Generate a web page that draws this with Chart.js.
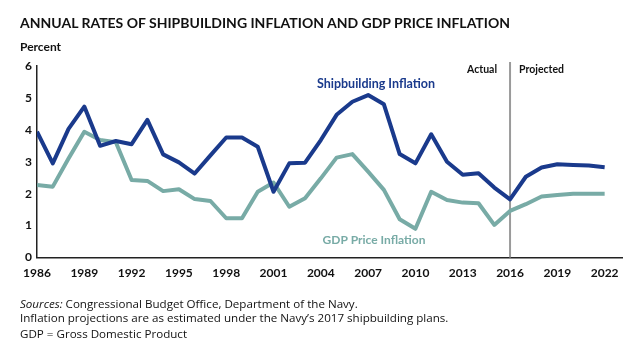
<!DOCTYPE html>
<html>
<head>
<meta charset="utf-8">
<script src="https://cdn.jsdelivr.net/npm/chart.js@4/dist/chart.umd.min.js"></script>
<style>
  html, body { margin: 0; padding: 0; background: #fff; }
  #wrap { position: relative; width: 640px; height: 354px; overflow: hidden; font-family: Lato, sans-serif; color: #111; }
  #chart { position: absolute; left: 0; top: 0; }
  .title { position: absolute; left: 20px; top: 14px; font-weight: 700; font-size: 14px; white-space: nowrap; }
  .unit { position: absolute; left: 20px; top: 39px; font-weight: 700; font-size: 12px; }
  .notes { position: absolute; left: 20px; top: 297px; font-family: 'Open Sans', sans-serif; font-size: 11.6px; line-height: 14px; white-space: nowrap; }
  .notes div:last-child { margin-top: 1.5px; }
</style>
</head>
<body>
<div id="wrap">
  <canvas id="chart" width="640" height="354"></canvas>
  <div class="title">ANNUAL RATES OF SHIPBUILDING INFLATION AND GDP PRICE INFLATION</div>
  <div class="unit">Percent</div>
  <div class="notes">
    <div><i>Sources:</i> Congressional Budget Office, Department of the Navy.</div>
    <div>Inflation projections are as estimated under the Navy’s 2017 shipbuilding plans.</div>
    <div>GDP = Gross Domestic Product</div>
  </div>
</div>
<script>
// Annual inflation rates, percent
const years = [
  1986, 1987, 1988, 1989, 1990, 1991, 1992, 1993, 1994, 1995,
  1996, 1997, 1998, 1999, 2000, 2001, 2002, 2003, 2004, 2005,
  2006, 2007, 2008, 2009, 2010, 2011, 2012, 2013, 2014, 2015,
  2016, 2017, 2018, 2019, 2020, 2021, 2022,
];
const shipbuilding = [
  3.94, 2.95, 4.03, 4.73, 3.50, 3.65, 3.55, 4.31, 3.23, 2.98,
  2.63, 3.20, 3.76, 3.76, 3.47, 2.06, 2.95, 2.97, 3.68, 4.47,
  4.88, 5.09, 4.80, 3.24, 2.95, 3.86, 3.00, 2.59, 2.64, 2.19,
  1.82, 2.53, 2.82, 2.92, 2.90, 2.88, 2.83,
];
const gdpPrice = [
  2.27, 2.22, 3.10, 3.94, 3.68, 3.61, 2.43, 2.40, 2.08, 2.14,
  1.83, 1.77, 1.23, 1.23, 2.06, 2.35, 1.59, 1.86, 2.48, 3.13,
  3.24, 2.69, 2.12, 1.20, 0.90, 2.06, 1.80, 1.72, 1.70, 1.02,
  1.46, 1.67, 1.91, 1.96, 2.00, 2.00, 2.00,
];
const xTicks = [1986, 1989, 1992, 1995, 1998, 2001, 2004, 2007, 2010, 2013, 2016, 2019, 2022];
const yTicks = [0, 1, 2, 3, 4, 5, 6];
const splitYear = 2016;

const BLUE = '#1a3a8c';
const TEAL = '#78aba6';
const INK = '#111';
const FONT = 'Lato, sans-serif';

const points = vals => vals.map((v, i) => ({ x: years[i], y: v }));

// vertical Actual/Projected divider + series labels
const annotations = {
  id: 'annotations',
  beforeDatasetsDraw(chart) {
    const { ctx, scales: { x, y } } = chart;
    const px = x.getPixelForValue(splitYear);
    ctx.save();
    ctx.strokeStyle = '#9a9a9a';
    ctx.lineWidth = 2;
    ctx.beginPath();
    ctx.moveTo(px, y.getPixelForValue(6) - 4);
    ctx.lineTo(px, y.getPixelForValue(0));
    ctx.stroke();
    ctx.restore();
  },
  afterDatasetsDraw(chart) {
    const { ctx, scales: { x } } = chart;
    const px = x.getPixelForValue(splitYear);
    ctx.save();
    ctx.font = '700 10.5px ' + FONT;
    ctx.textBaseline = 'middle';
    ctx.fillStyle = INK;
    ctx.textAlign = 'right';
    ctx.fillText('Actual', px - 13, 70);
    ctx.textAlign = 'left';
    ctx.fillText('Projected', px + 9, 70);

    ctx.font = '700 12.5px ' + FONT;
    ctx.textAlign = 'center';
    ctx.fillStyle = BLUE;
    ctx.fillText('Shipbuilding Inflation', 376, 84);
    ctx.font = '700 12px ' + FONT;
    ctx.fillStyle = TEAL;
    ctx.fillText('GDP Price Inflation', 374, 240);
    ctx.restore();
  },
};

new Chart(document.getElementById('chart'), {
  type: 'line',
  data: {
    datasets: [
      { label: 'Shipbuilding Inflation', data: points(shipbuilding), borderColor: BLUE, borderWidth: 4 },
      { label: 'GDP Price Inflation', data: points(gdpPrice), borderColor: TEAL, borderWidth: 4 },
    ],
  },
  options: {
    responsive: false,
    animation: false,
    devicePixelRatio: 1,
    layout: { padding: { top: 66, right: 18, left: 0, bottom: 0 } },
    elements: {
      point: { radius: 0 },
      line: { tension: 0, borderJoinStyle: 'round', borderCapStyle: 'butt', fill: false },
    },
    plugins: { legend: { display: false }, tooltip: { enabled: false } },
    scales: {
      x: {
        type: 'linear',
        min: 1986,
        max: 2023.1,
        afterBuildTicks: s => { s.ticks = xTicks.map(v => ({ value: v })); },
        afterFit: s => { s.height = 96.5; },
        grid: { display: false, drawTicks: false },
        border: { display: true, color: '#222', width: 1.5 },
        ticks: { color: INK, font: { family: FONT, size: 12, weight: '700' }, padding: 8, maxRotation: 0, callback: v => String(v) },
      },
      y: {
        min: 0,
        max: 6,
        afterBuildTicks: s => { s.ticks = yTicks.map(v => ({ value: v })); },
        afterFit: s => { s.width = 37; },
        grid: { display: false, drawTicks: false },
        border: { display: true, color: '#222', width: 1.5 },
        ticks: { color: INK, font: { family: FONT, size: 12, weight: '700' }, padding: 5 },
      },
    },
  },
  plugins: [annotations],
});
</script>
</body>
</html>
